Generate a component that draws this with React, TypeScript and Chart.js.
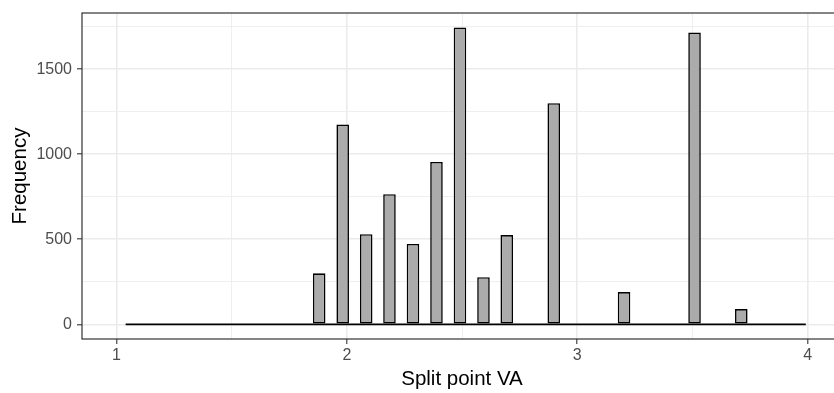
import React, { useEffect, useRef } from "react";
import { Chart, registerables } from "chart.js";

Chart.register(...registerables);

// Histogram bins with non-zero counts (bin centres on the "Split point VA" axis)
const binCenters = [1.880, 1.982, 2.084, 2.185, 2.287, 2.389, 2.491, 2.593, 2.694, 2.898, 3.203, 3.509, 3.712];
const binCounts = [300, 1175, 530, 765, 473, 955, 1745, 277, 525, 1300, 190, 1715, 90];
// Overall extent of the histogram bins (zero-count bins drawn as a line at 0)
const binRange = [1.040, 3.992];

const xMajorTicks = [1, 2, 3, 4];
const xMinorTicks = [1.5, 2.5, 3.5];
const yMajorTicks = [0, 500, 1000, 1500];
const yMinorTicks = [250, 750, 1250, 1750];

const xLimits = [0.8506, 4.149];
const yLimits = [-86, 1830];

const FONT = "'Liberation Sans', Arial, Helvetica, sans-serif";

export default function App() {
  const ref = useRef<HTMLCanvasElement | null>(null);

  useEffect(() => {
    document.body.style.margin = "0";
    const canvas = ref.current;
    if (!canvas) return;

    const isMajor = (list: number[], v: number) => list.some((m) => Math.abs(m - v) < 1e-9);

    const panelBorder = {
      id: "panelBorder",
      afterDraw(chart: any) {
        const { ctx, chartArea } = chart;
        ctx.save();
        ctx.strokeStyle = "#333333";
        ctx.lineWidth = 1.2;
        ctx.strokeRect(chartArea.left, chartArea.top, chartArea.right - chartArea.left, chartArea.bottom - chartArea.top);
        ctx.restore();
      },
    };

    const chart = new Chart(canvas, {
      type: "bar",
      data: {
        datasets: [
          {
            type: "line",
            data: [
              { x: binRange[0], y: 0 },
              { x: binRange[1], y: 0 },
            ],
            borderColor: "#000000",
            borderWidth: 1.8,
            pointRadius: 0,
            fill: false,
            order: 2,
          } as any,
          {
            type: "bar",
            data: binCenters.map((x, i) => ({ x, y: binCounts[i] })),
            backgroundColor: "#ABABAB",
            borderColor: "#000000",
            borderWidth: 1.6,
            borderSkipped: false,
            barPercentage: 0.54,
            categoryPercentage: 1,
            order: 1,
          } as any,
        ],
      },
      options: {
        animation: false,
        responsive: false,
        devicePixelRatio: 1,
        layout: { padding: { top: 9, right: 18, left: 0, bottom: 0 } },
        plugins: { legend: { display: false }, tooltip: { enabled: false } },
        scales: {
          x: {
            type: "linear",
            offset: false,
            min: xLimits[0],
            max: xLimits[1],
            afterBuildTicks: (s: any) => {
              s.ticks = [...xMajorTicks, ...xMinorTicks].sort((a, b) => a - b).map((v) => ({ value: v }));
            },
            afterFit: (s: any) => {
              s.height = 54;
            },
            border: { display: false },
            grid: {
              offset: false,
              color: "#EBEBEB",
              lineWidth: (c: any) => (isMajor(xMajorTicks, c.tick?.value) ? 1.6 : 0.8),
              tickColor: (c: any) => (isMajor(xMajorTicks, c.tick?.value) ? "#333333" : "rgba(0,0,0,0)"),
              tickWidth: 1.1,
              tickLength: 5,
              drawTicks: true,
            },
            ticks: {
              autoSkip: false,
              maxRotation: 0,
              padding: 2,
              color: "#4D4D4D",
              font: { family: FONT, size: 16 },
              callback: (v: any) => (isMajor(xMajorTicks, Number(v)) ? String(v) : ""),
            },
            title: {
              display: true,
              text: "Split point VA",
              color: "#000000",
              font: { family: FONT, size: 20.5 },
              padding: { top: 0, bottom: 1.7 },
            },
          },
          y: {
            type: "linear",
            min: yLimits[0],
            max: yLimits[1],
            afterBuildTicks: (s: any) => {
              s.ticks = [...yMajorTicks, ...yMinorTicks].sort((a, b) => a - b).map((v) => ({ value: v }));
            },
            afterFit: (s: any) => {
              s.width = 82;
            },
            border: { display: false },
            grid: {
              color: "#EBEBEB",
              lineWidth: (c: any) => (isMajor(yMajorTicks, c.tick?.value) ? 1.6 : 0.8),
              tickColor: (c: any) => (isMajor(yMajorTicks, c.tick?.value) ? "#333333" : "rgba(0,0,0,0)"),
              tickWidth: 1.1,
              tickLength: 5,
              drawTicks: true,
            },
            ticks: {
              autoSkip: false,
              padding: 5,
              color: "#4D4D4D",
              font: { family: FONT, size: 16, lineHeight: 1 },
              callback: (v: any) => (isMajor(yMajorTicks, Number(v)) ? String(v) : ""),
            },
            title: {
              display: true,
              text: "Frequency",
              color: "#000000",
              font: { family: FONT, size: 20.5 },
              padding: { top: 7.7, bottom: 0 },
            },
          },
        },
      },
      plugins: [panelBorder],
    } as any);

    return () => chart.destroy();
  }, []);

  return (
    <div style={{ width: 834, height: 393, overflow: "hidden", background: "#ffffff" }}>
      <canvas ref={ref} width={860} height={393} style={{ display: "block", width: 860, height: 393 }} />
    </div>
  );
}
